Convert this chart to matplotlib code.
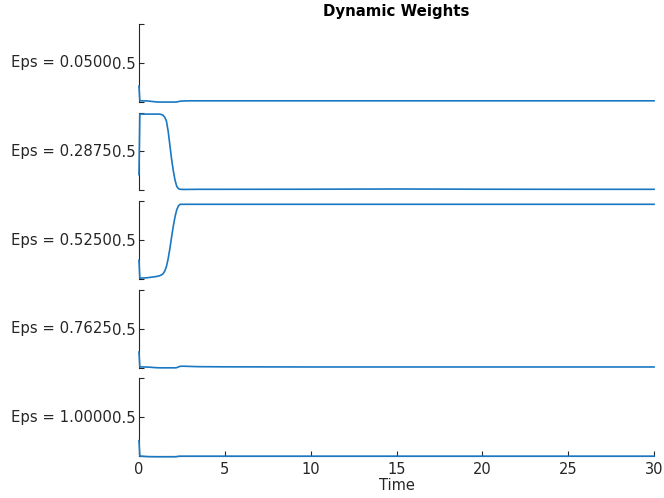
import matplotlib
matplotlib.use('Agg')
import matplotlib.pyplot as plt

# weight trajectories for each epsilon setting
time = [0, 0.05, 0.5, 1.0, 1.2, 1.3, 1.4, 1.5, 1.6, 1.7, 1.8, 1.9, 2.0, 2.1, 2.2, 2.3,
        2.4, 2.6, 3.0, 3.5, 5, 10, 15, 20, 25, 30]
eps_values = [0.05, 0.2875, 0.525, 0.7625, 1.0]

w_eps_0050 = [0.2, 0.01, 0.008, -0.004, -0.006, -0.006, -0.006, -0.006, -0.006, -0.006,
              -0.006, -0.006, -0.006, -0.006, -0.004, 0.0, 0.005, 0.008, 0.01, 0.01,
              0.01, 0.01, 0.01, 0.01, 0.01, 0.01]
w_eps_0288 = [0.2, 0.98, 0.98, 0.98, 0.98, 0.975, 0.965, 0.94, 0.89, 0.76, 0.58, 0.40,
              0.25, 0.13, 0.05, 0.02, 0.012, 0.01, 0.011, 0.012, 0.012, 0.013, 0.016,
              0.013, 0.012, 0.012]
w_eps_0525 = [0.24, 0.009, 0.015, 0.03, 0.04, 0.05, 0.065, 0.10, 0.16, 0.26, 0.39, 0.54,
              0.68, 0.80, 0.89, 0.94, 0.96, 0.96, 0.96, 0.96, 0.96, 0.96, 0.96, 0.96,
              0.96, 0.96]
w_eps_0763 = [0.2, 0.008, 0.006, -0.002, -0.004, -0.004, -0.004, -0.004, -0.004, -0.004,
              -0.004, -0.004, -0.004, -0.004, -0.002, 0.008, 0.016, 0.017, 0.014, 0.011,
              0.009, 0.007, 0.007, 0.007, 0.007, 0.007]
w_eps_1000 = [0.2, 0.002, -0.006, -0.008, -0.008, -0.008, -0.008, -0.008, -0.008, -0.008,
              -0.008, -0.008, -0.008, -0.008, -0.006, -0.002, 0.0, 0.0, 0.0, 0.0,
              0.0, 0.0, 0.0, 0.0, 0.0, 0.0]
weights = [w_eps_0050, w_eps_0288, w_eps_0525, w_eps_0763, w_eps_1000]

x_ticks = [0, 5, 10, 15, 20, 25, 30]

line_color = '#1a78c2'
text_color = '#262626'

fig, axes = plt.subplots(5, 1, figsize=(6.64, 4.98), dpi=100, sharex=True)
fig.subplots_adjust(left=0.2093, right=0.985, top=0.952, bottom=0.084, hspace=0.141)

for i, (ax, eps, w) in enumerate(zip(axes, eps_values, weights)):
    ax.plot(time, w, color=line_color, linewidth=1.2, clip_on=False, zorder=5)
    ax.set_xlim(0, 30)
    ax.set_ylim(0, 1)
    ax.set_yticks([0, 0.5, 1])
    ax.set_yticklabels(['', '0.5', ''])
    ax.tick_params(axis='y', direction='in', length=3.5, width=0.8, pad=2,
                   labelsize=10.7, colors=text_color)
    ax.set_ylabel(f'Eps = {eps:.4f}', rotation=0, ha='right', va='center',
                  fontsize=10.7, color=text_color, labelpad=0.5)
    for side in ['top', 'right']:
        ax.spines[side].set_visible(False)
    ax.spines['left'].set_color(text_color)
    ax.spines['left'].set_linewidth(0.8)
    if i < len(axes) - 1:
        ax.spines['bottom'].set_visible(False)
        ax.tick_params(axis='x', bottom=False, labelbottom=False)
    else:
        ax.spines['bottom'].set_color(text_color)
        ax.spines['bottom'].set_linewidth(0.8)
        ax.set_xticks(x_ticks)
        ax.tick_params(axis='x', direction='in', length=3.5, width=0.8, pad=4,
                       labelsize=10.5, colors=text_color)
        ax.set_xlabel('Time', fontsize=10.5, color=text_color, labelpad=1)

axes[0].set_title('Dynamic Weights', fontsize=10.8, fontweight='bold', pad=6)

fig.savefig('out.png', dpi=100)
plt.close(fig)
